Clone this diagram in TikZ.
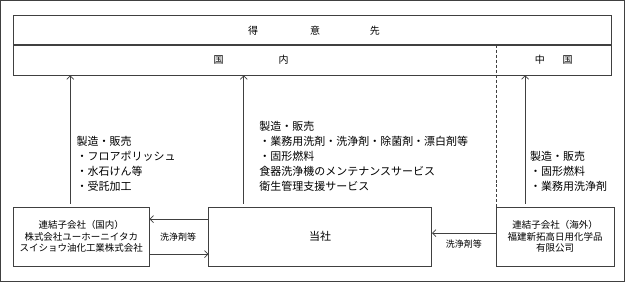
\documentclass[tikz,border=0pt]{standalone}
\usepackage{fontspec}
\setmainfont{Noto Sans CJK JP}
\usetikzlibrary{positioning,arrows.meta}

\begin{document}
\begin{tikzpicture}[x=1pt, y=-1pt, >={Straight Barb[length=3.5pt,width=7pt]},
  every path/.style={draw=black!75, line width=0.7pt},
  box/.style={draw, rectangle, inner sep=0pt, minimum height=59pt, align=center, font=\fontsize{9.5}{11.5}\selectfont},
  band/.style={draw, rectangle, inner sep=0pt, minimum width=599pt, font=\fontsize{10}{12}\selectfont},
  note/.style={anchor=north west, inner sep=0pt, align=left, font=\fontsize{11}{15}\selectfont},
  tag/.style={inner sep=1pt, font=\fontsize{9}{11}\selectfont},
  up/.style={->, shorten <=3pt}]
\useasboundingbox (0,0) rectangle (625,281);

\node[band, minimum height=29pt] (customer) at (312.5,29.5) {};
\node[band, minimum height=30pt, below=0pt of customer] (market) {};
\node[font=\fontsize{10}{12}\selectfont] (tokuisaki) at (314,30) {得\hspace{52pt}意\hspace{50pt}先};
\node[font=\fontsize{10}{12}\selectfont] (kokunai) at (251,59) {国\hspace{55pt}内};
\node[font=\fontsize{10}{12}\selectfont] (chugoku) at (554,59) {中\hspace{18pt}国};

\node[box, minimum width=136pt] (domsub) at (81,236.5) {連結子会社（国内）\\株式会社ユーホーニイタカ\\スイショウ油化工業株式会社};
\node[box, minimum width=223pt, font=\fontsize{11}{13}\selectfont, right=59pt of domsub] (tousha) {当社};
\node[box, minimum width=118pt, right=64pt of tousha] (abroad) {連結子会社（海外）\\福建新拓高日用化学品\\有限公司};

\coordinate (split) at (abroad.west |- market.north);
\draw[dash pattern=on 3pt off 2pt] (split) -- (abroad.north west);

\draw[up] ([xshift=-11pt]domsub.north) -- ([xshift=-11pt]domsub.north |- market.south);
\draw[up] ([xshift=-76.5pt]tousha.north) -- ([xshift=-76.5pt]tousha.north |- market.south);
\draw[up] ([xshift=-30pt]abroad.north) -- ([xshift=-30pt]abroad.north |- market.south);

\node[note] (domsales) at (76,136) {製造・販売\\・フロアポリッシュ\\・水石けん等\\・受託加工};
\node[note] (ownsales) at (259,121) {製造・販売\\・業務用洗剤・洗浄剤・除菌剤・漂白剤等\\・固形燃料\\食器洗浄機のメンテナンスサービス\\衛生管理支援サービス};
\node[note] (abrsales) at (530,151) {製造・販売\\・固形燃料\\・業務用洗浄剤};

\draw[->] ([yshift=17.5pt]tousha.west) -- ([yshift=17.5pt]domsub.east);
\draw[->] ([yshift=-17.5pt]domsub.east) -- ([yshift=-17.5pt]tousha.west);
\node[tag] (deterg1) at (178,237) {洗浄剤等};

\draw[->] ([yshift=3.5pt]abroad.west) -- ([yshift=3.5pt]tousha.east);
\node[tag] (deterg2) at (464,244) {洗浄剤等};
\end{tikzpicture}
\end{document}
